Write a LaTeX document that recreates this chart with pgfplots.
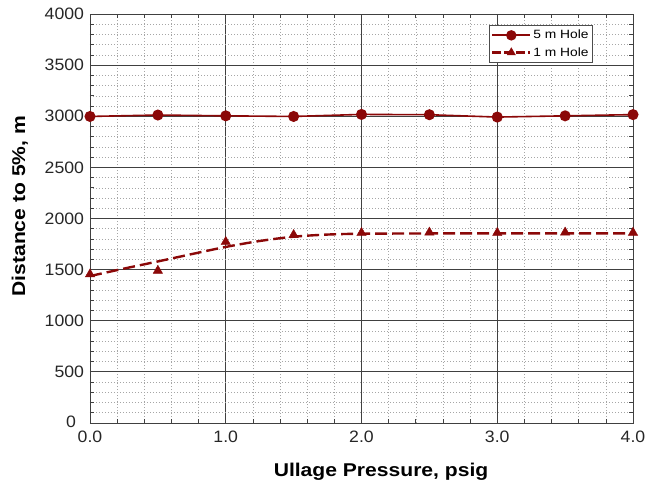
\documentclass[border=0pt]{standalone}
\usepackage{pgfplots}
\pgfplotsset{compat=1.18}
\usepackage{fontspec}
\setmainfont{Liberation Sans}
\newfontfamily\tickfont[FakeStretch=1.07]{Liberation Sans}
\newfontfamily\labelfont[FakeStretch=1.14]{Liberation Sans}
\newfontfamily\legendfont[FakeStretch=1.15]{Liberation Sans}
\definecolor{holered}{RGB}{139,8,8}

% measured points
\pgfplotstableread{
x    y
0.0  2998
0.5  3012
1.0  3004
1.5  2998
2.0  3018
2.5  3015
3.0  2992
3.5  3004
4.0  3016
}\fivem
\pgfplotstableread{
x    y
0.0  1455
0.5  1490
1.0  1772
1.5  1840
2.0  1860
2.5  1864
3.0  1860
3.5  1864
4.0  1862
}\onem
% trend curve through the 1 m points
\pgfplotstableread{
x     y
0.00  1437
0.25  1510
0.50  1580
0.75  1652
1.00  1722
1.25  1780
1.50  1822
1.75  1843
2.00  1851
2.50  1854
3.00  1855
3.50  1855
4.00  1855
}\onemfit

\begin{document}
\begin{tikzpicture}
\useasboundingbox (-90pt,-62pt) rectangle (576pt,423pt);
\begin{axis}[
  scale only axis, width=543pt, height=409pt,
  xmin=0, xmax=4, ymin=0, ymax=4000,
  xtick={0,1,2,3,4}, ytick={0,500,...,4000},
  yticklabels={{\raisebox{2pt}{0}\kern8pt},500,1000,1500,2000,2500,3000,3500,4000},
  minor x tick num=4, minor y tick num=4,
  grid=both,
  major grid style={black!75, line width=0.8pt},
  minor grid style={black!35, dash pattern=on 1pt off 2pt, line width=0.6pt},
  axis line style={black!75, line width=0.9pt},
  tick align=inside, major tick length=0pt, minor tick length=4pt,
  tick style={black!75, line width=0.7pt},
  xticklabel style={yshift=-4pt, /pgf/number format/fixed,
    /pgf/number format/fixed zerofill, /pgf/number format/precision=1},
  yticklabel style={xshift=-2.5pt},
  /pgf/number format/1000 sep={},
  /pgf/number format/assume math mode=true,
  ticklabel style={font=\tickfont\fontsize{16.5}{19}\selectfont, text=black!85},
  xlabel={Ullage Pressure, psig}, ylabel={Distance to 5\%, m},
  label style={font=\labelfont\bfseries\fontsize{18.5}{21}\selectfont},
  xlabel style={at={(axis description cs:0.536,-0.132)}, anchor=base},
  ylabel style={at={(axis description cs:-0.129,0.53)}, anchor=center},
  clip=false,
  legend style={at={(0.926,0.973)}, anchor=north east, draw=black!70,
    font=\legendfont\fontsize{12}{14}\selectfont, inner xsep=2pt, inner ysep=3pt,
    row sep=3pt, nodes={inner sep=2pt}},
  legend cell align=left,
]
\addplot[holered, line width=1.6pt, mark=*, mark size=4.7pt,
  legend image code/.code={
    \draw[holered, line width=1.8pt] (0pt,0pt) -- (38pt,0pt);
    \fill[holered] (19pt,0pt) circle (4.4pt);
  }]
  table[x=x, y=y] {\fivem};
\addlegendentry{5 m Hole\hspace{6pt}}
\addplot[holered, line width=2.4pt, dash pattern=on 12pt off 5pt, smooth, forget plot]
  table[x=x, y=y] {\onemfit};
\addplot[holered, only marks, mark=triangle*, mark size=5.4pt,
  legend image code/.code={
    \draw[holered, line width=2.2pt, dash pattern=on 8.5pt off 3.5pt] (0pt,0pt) -- (38pt,0pt);
    \fill[holered] (19pt,0pt) ++(90:4.8pt) -- ++(-120:8.3pt) -- ++(0:8.3pt) -- cycle;
  }]
  table[x=x, y=y] {\onem};
\addlegendentry{1 m Hole\hspace{6pt}}
\end{axis}
\end{tikzpicture}
\end{document}
